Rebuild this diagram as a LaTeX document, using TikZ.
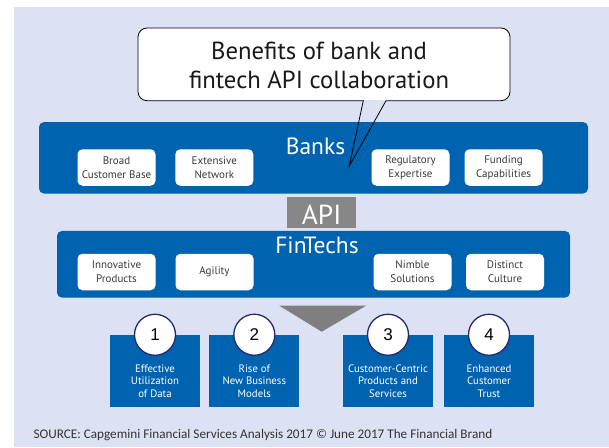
\documentclass[tikz,border=0pt]{standalone}
\usepackage{fontspec}
\setmainfont{PT Sans}
\newfontfamily\numfont{Liberation Sans}
\newfontfamily\srcfont{Carlito}
\definecolor{bgcol}{HTML}{DCE2F3}
\definecolor{bankblue}{HTML}{0063B0}
\definecolor{apigray}{HTML}{878787}
\definecolor{trigray}{HTML}{7F7F7F}
\definecolor{navy}{HTML}{262A6A}
\definecolor{txtgray}{HTML}{3A3A3A}
\definecolor{srcgray}{HTML}{333333}
\begin{document}
\begin{tikzpicture}[x=1pt,y=-1pt,
  panel/.style={fill=bankblue, rounded corners=5pt, inner sep=0pt},
  wbox/.style={fill=white, rounded corners=5pt, minimum width=78pt, minimum height=36.5pt, inner sep=0pt, align=center, text=txtgray, font=\fontsize{11}{14}\selectfont},
  bbox/.style={fill=bankblue, minimum width=90pt, minimum height=71.7pt, inner sep=0pt},
  btext/.style={text=white, align=center, font=\fontsize{10.8}{12.3}\selectfont, inner sep=0pt},
  numc/.style={circle, fill=white, draw=navy, line width=1.3pt, minimum size=41pt, inner sep=0pt, font=\numfont\fontsize{17}{17}\selectfont},
  head/.style={text=white, font=\fontsize{23.5}{23.5}\selectfont, inner sep=0pt, anchor=base}]
\useasboundingbox (0,0) rectangle (609,447);
\fill[bgcol] (14,7.3) rectangle (609,447);

% Banks panel
\node[panel, minimum width=549pt, minimum height=71.5pt] (banks) at (313.5,157.8) {};
\node[head] (bankslbl) at (315.5,154) {Banks};
\node[wbox] (broad) at (116.5,167.5) {Broad\\Customer Base};
\node[wbox] (extensive) at (214.3,167.5) {Extensive\\Network};
\node[wbox] (regulatory) at (410.5,167.5) {Regulatory\\Expertise};
\node[wbox] (funding) at (503.5,167.5) {Funding\\Capabilities};

% API
\node[fill=apigray, minimum width=69pt, minimum height=31pt, inner sep=0pt] (api) at (321.6,212.2) {};
\node[text=white, font=\fontsize{27.5}{27.5}\selectfont, inner sep=0pt, anchor=base] (apilbl) at (321.6,224.3) {API};

% FinTechs panel
\node[panel, minimum width=513pt, minimum height=66.7pt] (fintechs) at (313.5,264.3) {};
\node[head] (fintechslbl) at (317,253) {FinTechs};
\node[wbox] (innovative) at (116.5,272) {Innovative\\Products};
\node[wbox] (agility) at (214.5,272) {Agility};
\node[wbox] (nimble) at (412.5,272) {Nimble\\Solutions};
\node[wbox] (distinct) at (505,272) {Distinct\\Culture};

% Triangle
\fill[trigray] (279.3,305.7) -- (366,305.7) -- (321.7,331.7) -- cycle;

% Outcome boxes
\node[bbox] (b1) at (155,370.8) {};
\node[bbox] (b2) at (254.3,370.8) {};
\node[bbox] (b3) at (388,370.8) {};
\node[bbox] (b4) at (489,370.8) {};
\node[btext] (t1) at (155,381) {Effective\\Utilization\\of Data};
\node[btext] (t2) at (254.3,381) {Rise of\\New Business\\Models};
\node[btext] (t3) at (388,381) {Customer-Centric\\Products and\\Services};
\node[btext] (t4) at (489,381) {Enhanced\\Customer\\Trust};
\node[numc] (c1) at (b1.north) {1};
\node[numc] (c2) at (b2.north) {2};
\node[numc] (c3) at (b3.north) {3};
\node[numc] (c4) at (b4.north) {4};

% Source
\node[anchor=base west, inner sep=0pt, text=srcgray, font=\srcfont\fontsize{13.2}{13.2}\selectfont] (source) at (33.3,438.3) {SOURCE: Capgemini Financial Services Analysis 2017 \textcopyright{} June 2017 The Financial Brand};

% Callout
\node[draw=black, line width=0.8pt, fill=white, rounded corners=9pt, minimum width=372pt, minimum height=72.7pt, inner sep=0pt] (callout) at (324,64.35) {};
\fill[bgcol] (363.7,99.8) rectangle (385.6,101.6);
\coordinate (tl) at (363.3,100.7);
\coordinate (tr) at (386,100.7);
\coordinate (tip) at (349.3,166);
\draw[line width=0.8pt, line join=miter] (tl) -- (tip) -- (tr);
\node[font=\fontsize{24.7}{29}\selectfont, align=center, text=black!90, inner sep=0pt] (title) at (319,65.5) {Benefits of bank and\\fintech API collaboration};
\end{tikzpicture}
\end{document}
